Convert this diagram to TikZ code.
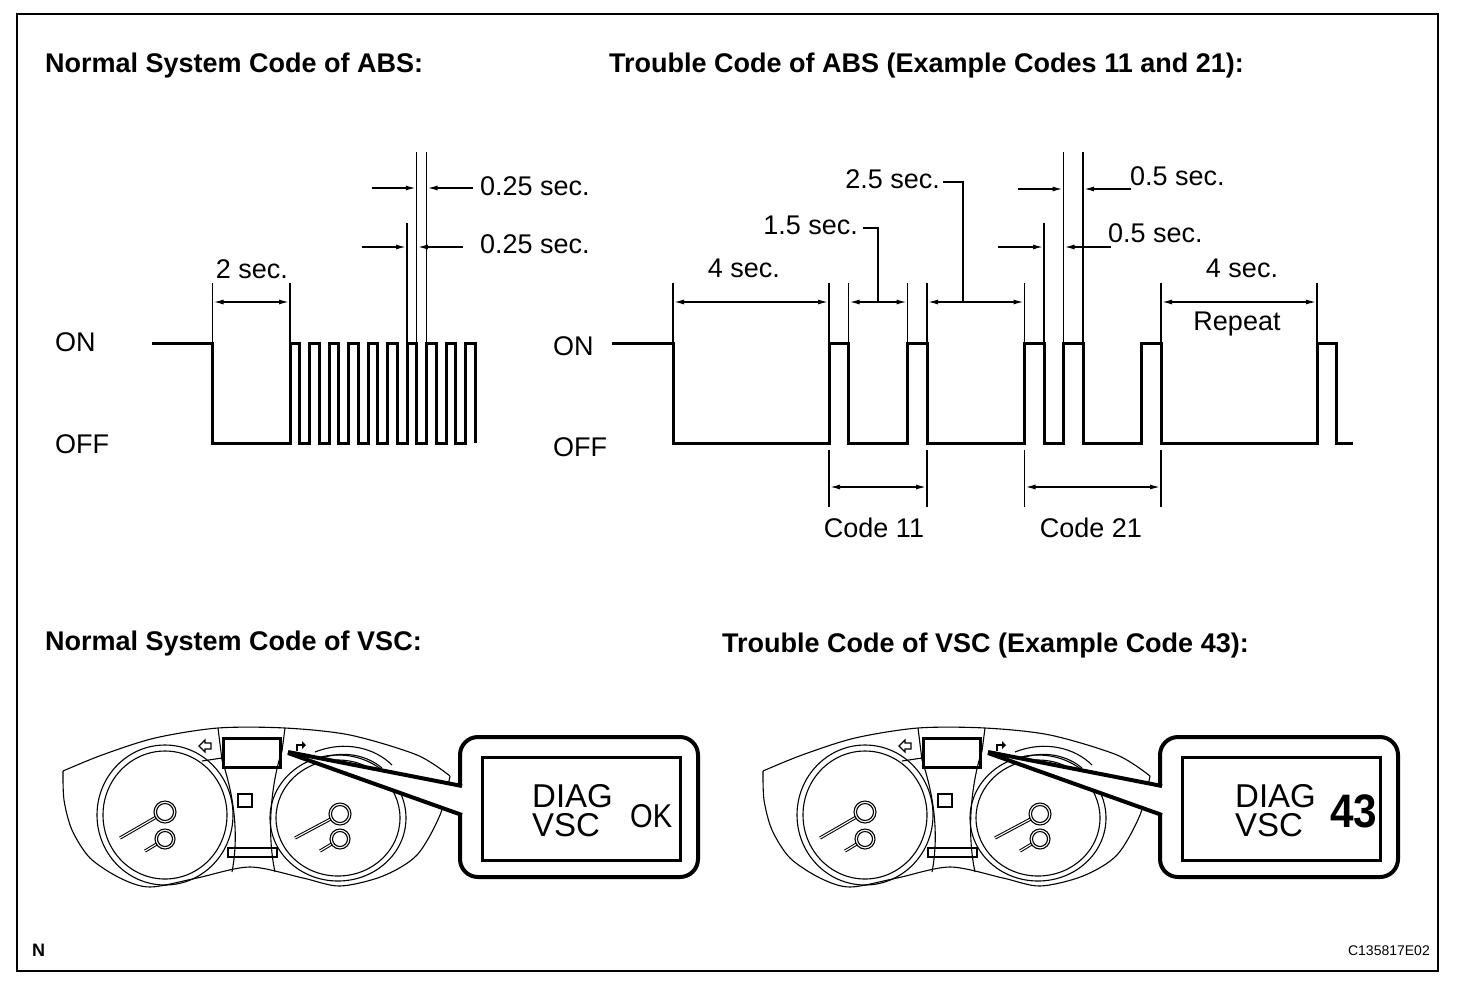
\documentclass[tikz,border=0pt]{standalone}
\usepackage{fontspec}
\setmainfont{Liberation Sans}
\newfontfamily\lcdnarrow[FakeStretch=0.88]{Liberation Sans}
\newfontfamily\bignum[FakeStretch=0.9]{Liberation Sans}
\usetikzlibrary{arrows.meta}
\tikzset{
  wave/.style={line width=3pt, line join=miter},
  ext/.style={line width=1.4pt},
  dimarr/.style={line width=1.8pt, {Latex[length=11pt,width=5pt]}-{Latex[length=11pt,width=5pt]}},
  onearr/.style={line width=1.8pt, -{Latex[length=11pt,width=5pt]}},
  lbl/.style={inner sep=0pt, font=\fontsize{27}{30}\selectfont},
  head/.style={inner sep=0pt, font=\fontsize{27}{30}\selectfont\bfseries},
  thinline/.style={line width=1.1pt},
  lcd/.style={inner sep=0pt, align=left, font=\fontsize{33}{29}\selectfont},
}
\newcommand\drawcluster{%
  % gauges
  \draw[thinline] (165,815) ellipse [x radius=68pt, y radius=70pt];
  \draw[thinline] (165,815) ellipse [x radius=62pt, y radius=64pt];
  \draw[thinline] (338,818) ellipse [x radius=68pt, y radius=63pt];
  \draw[thinline] (338,818) ellipse [x radius=62pt, y radius=58pt];
  % chrome arcs
  \draw[thinline] (315,752) .. controls (345,740) and (375,748) .. (392,765);
  \draw[thinline] (322,758) .. controls (345,750) and (368,756) .. (382,768);
  % housing
  \draw[thinline] plot[smooth] coordinates {(63,771) (102,755) (155,738) (218,728) (285,728) (350,735) (417,755) (450,776)};
  \draw[thinline] plot[smooth] coordinates {(63,771) (64,800) (72,830) (90,858) (120,878) (150,887) (197,878) (250,867) (303,878) (340,886) (383,876) (417,855) (440,815) (450,776)};
  % centre panel
  \draw[thinline] (218,728) -- (222,760) .. controls (232,790) and (240,830) .. (232,872);
  \draw[thinline] (202,761) -- (222,758);
  \draw[thinline] (285,728) -- (282,751) .. controls (272,780) and (266,830) .. (275,872);
  \draw[line width=3pt] (223,738) rectangle (280,767);
  \draw[line width=1.5pt] (238,794) rectangle (252,807);
  \draw[thinline] (228,848) rectangle (277,857);
  % icons
  \draw[thinline] (199,746) -- (205,740) -- (205,743) -- (211,743) -- (211,749) -- (205,749) -- (205,752) -- cycle;
  \draw[line width=1.3pt] (297,751) |- (302,745);
  \fill (302,741) -- (306,745) -- (302,749) -- cycle;
  % needles
  \foreach \hx/\hy/\tx/\ty in {165/812/120/838, 165/839/145/851, 340/814/295/838, 340/839/320/851}{
    \draw[line width=3.2pt] (\hx,\hy) -- (\tx,\ty);
    \draw[line width=1.1pt, white] (\hx,\hy) -- (\tx,\ty);
  }
  \foreach \hx/\hy/\r in {165/812/11, 165/839/10, 340/814/11, 340/839/10}{
    \draw[thinline, fill=white] (\hx,\hy) circle [radius=\r pt];
    \draw[thinline] (\hx,\hy) circle [radius=\r pt-2.5pt];
  }
  % callout
  \fill[white] (288,752) -- (462,786) -- (462,815) -- cycle;
  \draw[line width=4pt] (288,752) -- (462,786);
  \draw[line width=4pt] (288,753) -- (462,815);
  \draw[line width=4pt, rounded corners=18pt] (460,786) -- (460,737) -- (698,737) -- (698,877) -- (460,877) -- (460,815);
  \draw[line width=3pt] (482,757) rectangle (680,860);
}
\begin{document}
\begin{tikzpicture}[x=1pt, y=-1pt]
\useasboundingbox (0,0) rectangle (1472,986);
\draw[line width=2.5pt] (17,14) rectangle (1438,971);

% headings
\node[head, anchor=base west] (h1) at (45,72) {Normal System Code of ABS:};
\node[head, anchor=base west] (h2) at (609,72) {Trouble Code of ABS (Example Codes 11 and 21):};
\node[head, anchor=base west] (h3) at (45,650) {Normal System Code of VSC:};
\node[head, anchor=base west] (h4) at (722,652) {Trouble Code of VSC (Example Code 43):};

% ---------- normal ABS ----------
\node[lbl, anchor=base west] (on1) at (55,351) {ON};
\node[lbl, anchor=base west] (off1) at (55,453) {OFF};
\draw[wave] (152,343) -- (212.5,343) -- (212.5,443) -- (290,443) -- (290,343)
  \foreach \k in {0,...,8}{ -- ++(9.75,0) -- ++(0,100) -- ++(9.75,0) -- ++(0,-100)}
  -- ++(9.75,0) -- ++(0,100);
\draw[ext] (212.5,283) -- (212.5,343);
\draw[ext] (290,283) -- (290,343);
\draw[dimarr] (212.5,302) -- (290,302);
\node[lbl, anchor=base] (l2s) at (252,278) {2 sec.};
\draw[ext] (416.75,152) -- (416.75,343);
\draw[ext] (426.5,152) -- (426.5,343);
\draw[ext] (407,223) -- (407,343);
\draw[onearr] (372,188) -- (416.75,188);
\draw[onearr] (473,188) -- (426.5,188);
\draw[onearr] (362,247) -- (407,247);
\draw[onearr] (463,247) -- (416.75,247);
\node[lbl, anchor=base west] (l025a) at (480,195) {0.25 sec.};
\node[lbl, anchor=base west] (l025b) at (480,253) {0.25 sec.};

% ---------- trouble ABS ----------
\node[lbl, anchor=base west] (on2) at (553,355) {ON};
\node[lbl, anchor=base west] (off2) at (553,456) {OFF};
\draw[wave] (612,343) -- (673,343) -- (673,443) -- (829,443) -- (829,343) -- (848.5,343) -- (848.5,443)
  -- (907.5,443) -- (907.5,343) -- (927,343) -- (927,443) -- (1024.5,443) -- (1024.5,343) -- (1044,343)
  -- (1044,443) -- (1063.5,443) -- (1063.5,343) -- (1083,343) -- (1083,443) -- (1141.5,443) -- (1141.5,343)
  -- (1161,343) -- (1161,443) -- (1317,443) -- (1317,343) -- (1336.5,343) -- (1336.5,443) -- (1353,443);
\foreach \x in {673,829,848.5,907.5,927,1024.5,1161,1317}{\draw[ext] (\x,283) -- (\x,343);}
\draw[ext] (1063.5,152) -- (1063.5,343);
\draw[ext] (1083,152) -- (1083,343);
\draw[ext] (1044,223) -- (1044,343);
\foreach \x in {829,927,1024.5,1161}{\draw[ext] (\x,450) -- (\x,507);}
\draw[dimarr] (673,302) -- (829,302);
\draw[dimarr] (848.5,302) -- (907.5,302);
\draw[dimarr] (927,302) -- (1024.5,302);
\draw[dimarr] (1161,302) -- (1317,302);
\draw[dimarr] (829,487) -- (927,487);
\draw[dimarr] (1024.5,487) -- (1161,487);
\draw[ext] (878,302) -- (878,228) -- (863,228);
\draw[ext] (963,302) -- (963,182) -- (943,182);
\draw[onearr] (1018,189) -- (1063.5,189);
\draw[onearr] (1131,189) -- (1083,189);
\draw[onearr] (998,247) -- (1044,247);
\draw[onearr] (1111,247) -- (1063.5,247);
\node[lbl, anchor=base] (l4a) at (744,277) {4 sec.};
\node[lbl, anchor=base east] (l15) at (858,234) {1.5 sec.};
\node[lbl, anchor=base east] (l25) at (940,188) {2.5 sec.};
\node[lbl, anchor=base west] (l05a) at (1130,185) {0.5 sec.};
\node[lbl, anchor=base west] (l05b) at (1108,242) {0.5 sec.};
\node[lbl, anchor=base] (l4b) at (1242,277) {4 sec.};
\node[lbl, anchor=base] (rep) at (1237,330) {Repeat};
\node[lbl, anchor=base] (c11) at (874,537) {Code 11};
\node[lbl, anchor=base] (c21) at (1091,537) {Code 21};

% ---------- VSC clusters ----------
\drawcluster
\begin{scope}[shift={(700,0)}]
\drawcluster
\end{scope}
\node[lcd, anchor=north west] (dv1) at (532,784) {DIAG\\VSC};
\node[inner sep=0pt, anchor=base west, font=\lcdnarrow\fontsize{33}{36}\selectfont] (ok) at (630,827) {OK};
\node[lcd, anchor=north west] (dv2) at (1235,784) {DIAG\\VSC};
\node[inner sep=0pt, anchor=base west, font=\bignum\bfseries\fontsize{47}{50}\selectfont] (n43) at (1330,827) {43};

% footer
\node[inner sep=0pt, anchor=base west, font=\fontsize{18}{20}\selectfont\bfseries] (nn) at (32,956) {N};
\node[inner sep=0pt, anchor=base east, font=\fontsize{14}{16}\selectfont] (code) at (1430,955) {C135817E02};
\end{tikzpicture}
\end{document}
